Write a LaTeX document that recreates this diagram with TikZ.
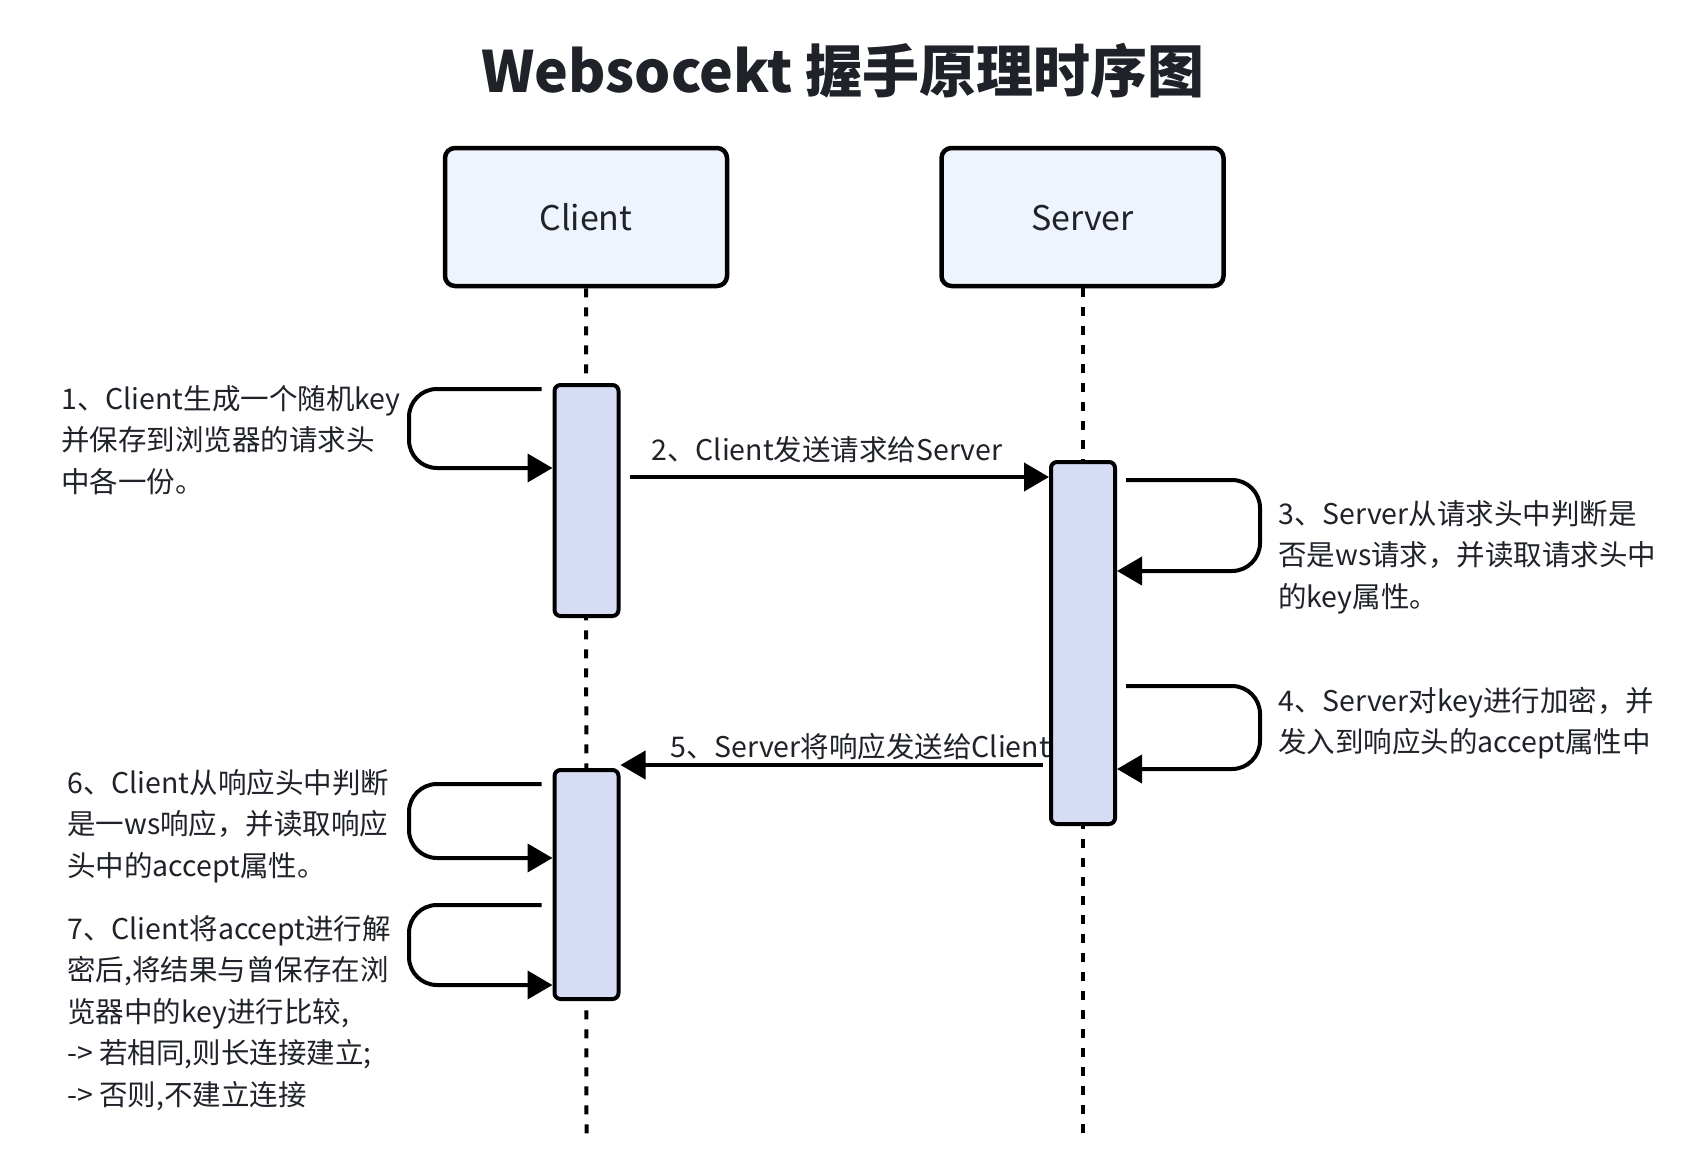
\documentclass[tikz,border=0pt]{standalone}
\usepackage{fontspec}
\setmainfont{Noto Sans CJK SC}
\usetikzlibrary{arrows.meta,calc}
\definecolor{boxfill}{RGB}{238,243,252}
\definecolor{actfill}{RGB}{214,220,244}
\definecolor{txt}{RGB}{31,35,41}
\begin{document}
\begin{tikzpicture}[x=1pt,y=-1pt,
  lifebox/.style={draw=black, line width=4.5pt, fill=boxfill, rounded corners=10pt,
    minimum width=282pt, minimum height=138pt, inner sep=0pt,
    font=\fontsize{34}{40}\selectfont, text=txt, text depth=0pt, text height=0pt},
  act/.style={draw=black, line width=4pt, fill=actfill, rounded corners=6pt,
    minimum width=64pt, inner sep=0pt},
  life/.style={line width=4pt, dash pattern=on 9pt off 10pt},
  msg/.style={line width=4pt, -{Triangle[length=25pt,width=28pt]}},
  loopline/.style={msg, rounded corners=28pt},
  note/.style={font=\fontsize{28.5}{41.5}\selectfont, text=txt, align=left, inner sep=0pt},
]
\useasboundingbox[fill=white] (0,0) rectangle (1688,1164);

% title
\node[font=\fontsize{57}{60}\selectfont\bfseries, text=txt] (title) at (843,71) {Websocekt 握手原理时序图};

% participants
\node[lifebox] (client) at (586,217) {\raisebox{-0.40em}{Client}};
\node[lifebox] (server) at (1082.5,217) {\raisebox{-0.40em}{Server}};

% lifelines
\coordinate (cend) at (586.5,1136);
\coordinate (send) at (1082.5,1136);
\draw[life] (client.south) -- (cend);
\draw[life] (server.south) -- (send);

% activations
\node[act, minimum height=231pt] (act1) at (586.5,500.5) {};
\node[act, minimum height=362pt] (act3) at (1083,643) {};
\node[act, minimum height=229pt] (act2) at (586.5,884.5) {};

% loop 1
\draw[loopline] ($(act1.west |- 0,389)+(-11,0)$) -- (409,389) -- (409,468) -- (act1.west |- 0,468);
\node[note, anchor=north west] (n1) at (61,385) {1、Client生成一个随机key\\并保存到浏览器的请求头\\中各一份。};

% message 2
\draw[msg] ($(act1.east |- 0,477)+(9,0)$) -- (act3.west |- 0,477);
\node[note] (n2) at (827,450) {2、Client发送请求给Server};

% loop 3
\draw[loopline] ($(act3.east |- 0,480)+(9,0)$) -- (1260,480) -- (1260,571) -- (act3.east |- 0,571);
\node[note, anchor=north west] (n3) at (1278,500) {3、Server从请求头中判断是\\否是ws请求，并读取请求头中\\的key属性。};

% loop 4
\draw[loopline] ($(act3.east |- 0,686)+(9,0)$) -- (1260,686) -- (1260,769) -- (act3.east |- 0,769);
\node[note, anchor=north west] (n4) at (1278,687) {4、Server对key进行加密，并\\发入到响应头的accept属性中};

% message 5
\draw[msg] ($(act3.west |- 0,765)+(-6,0)$) -- (act2.east |- 0,765);
\node[note] (n5) at (860,747) {5、Server将响应发送给Client};

% loop 6
\draw[loopline] ($(act2.west |- 0,784)+(-11,0)$) -- (409,784) -- (409,858) -- (act2.west |- 0,858);
\node[note, anchor=north west] (n6) at (67,769) {6、Client从响应头中判断\\是一ws响应，并读取响应\\头中的accept属性。};

% loop 7
\draw[loopline] ($(act2.west |- 0,905)+(-11,0)$) -- (409,905) -- (409,985) -- (act2.west |- 0,985);
\node[note, anchor=north west] (n7) at (67,915) {7、Client将accept进行解\\密后,将结果与曾保存在浏\\览器中的key进行比较,\\-> 若相同,则长连接建立;\\-> 否则,不建立连接};
\end{tikzpicture}
\end{document}
